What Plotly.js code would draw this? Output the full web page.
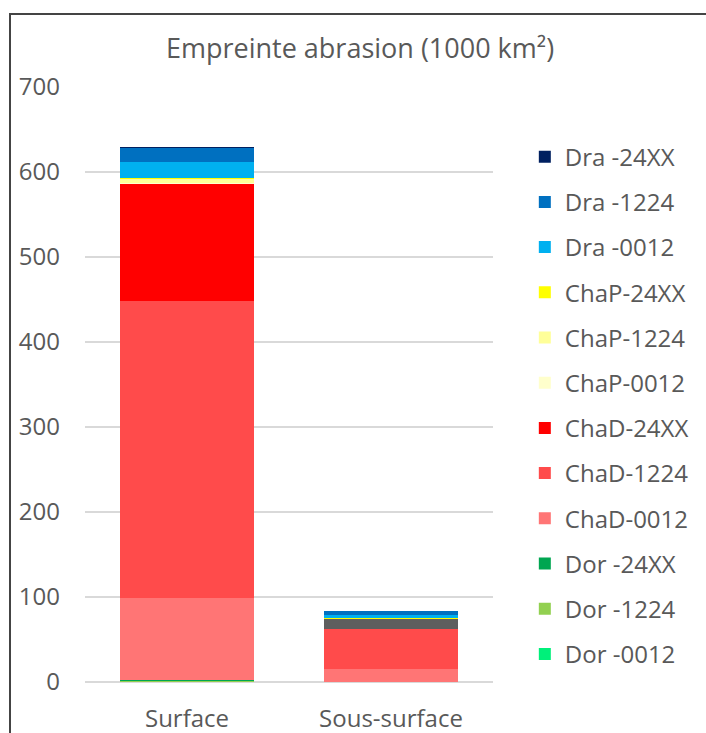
<!DOCTYPE html>
<html>
<head>
<meta charset="utf-8">
<script src="https://cdn.plot.ly/plotly-3.0.1.min.js"></script>
<style>
  html, body { margin: 0; padding: 0; background: #fff; overflow: hidden; }
  #chart { position: absolute; left: 0; top: 0; width: 706px; height: 733px; }
  #frame { position: absolute; left: 9px; top: 13px; width: 720px; height: 760px;
           border-top: 2px solid #444; border-left: 2px solid #444; pointer-events: none; }
</style>
</head>
<body>
<div id="chart"></div>
<div id="frame"></div>
<script>
const categories = ['Surface', 'Sous-surface'];

// series names, bottom of stack first
const seriesNames = ['Dor -0012', 'Dor -1224', 'Dor -24XX',
                     'ChaD-0012', 'ChaD-1224', 'ChaD-24XX',
                     'ChaP-0012', 'ChaP-1224', 'ChaP-24XX',
                     'Dra -0012', 'Dra -1224', 'Dra -24XX'];

const dor0012  = [0.5, 0];
const dor1224  = [1, 0];
const dor24xx  = [0.5, 0];
const chad0012 = [97, 15.5];
const chad1224 = [349, 47];
const chad24xx = [138, 11.5];
const chap0012 = [0.5, 0.3];
const chap1224 = [5.5, 0.4];
const chap24xx = [1, 0.3];
const dra0012  = [19, 4];
const dra1224  = [16, 4];
const dra24xx  = [1, 1];

const seriesValues = [dor0012, dor1224, dor24xx, chad0012, chad1224, chad24xx,
                      chap0012, chap1224, chap24xx, dra0012, dra1224, dra24xx];

const seriesColors = ['#00F07A', '#92D050', '#00A651',
                      '#FF7575', '#FF4B4B', ['#FF0000', '#5E5E5E'],
                      '#FFFFCC', '#FFFF99', '#FFFF00',
                      '#00B0F0', '#0070C0', '#002060'];

const FONT = '"Open Sans", "Noto Sans", sans-serif';
const TXT = '#595959';

const traces = seriesNames.map((n, i) => ({
  type: 'bar',
  name: n,
  x: categories,
  y: seriesValues[i],
  legendgroup: 'g' + i,
  legendrank: 1000 - i,
  marker: { color: seriesColors[i], line: { width: 0 } },
  hoverinfo: 'name+y'
}));

const layout = {
  width: 706, height: 733,
  margin: { l: 85, r: 209, t: 87, b: 51 },
  barmode: 'stack',
  bargap: 0.34,
  paper_bgcolor: '#ffffff',
  plot_bgcolor: '#ffffff',
  font: { family: FONT, color: TXT, size: 24 },
  title: {
    text: 'Empreinte abrasion (1000 km²)',
    font: { family: FONT, size: 27, color: TXT },
    x: 0.51, xref: 'container', xanchor: 'center',
    y: 0.934, yref: 'container', yanchor: 'middle'
  },
  xaxis: {
    type: 'category',
    showgrid: false, showline: false, zeroline: false,
    ticks: '',
    tickfont: { family: FONT, size: 24, color: TXT },
    ticklabelstandoff: 20
  },
  yaxis: {
    range: [0, 700],
    dtick: 100,
    showgrid: true, gridcolor: '#D9D9D9', gridwidth: 1.5,
    zeroline: true, zerolinecolor: '#D9D9D9', zerolinewidth: 1.5,
    showline: false, ticks: '',
    tickfont: { family: FONT, size: 24, color: TXT },
    ticklabelstandoff: 24
  },
  showlegend: true,
  legend: {
    x: 1.078, xanchor: 'left', xref: 'paper',
    y: 0.92, yanchor: 'top', yref: 'paper',
    traceorder: 'grouped',
    tracegroupgap: 11,
    font: { family: FONT, size: 24, color: TXT },
    bgcolor: 'rgba(0,0,0,0)'
  }
};

Plotly.newPlot('chart', traces, layout, { displayModeBar: false, staticPlot: true });
</script>
</body>
</html>
